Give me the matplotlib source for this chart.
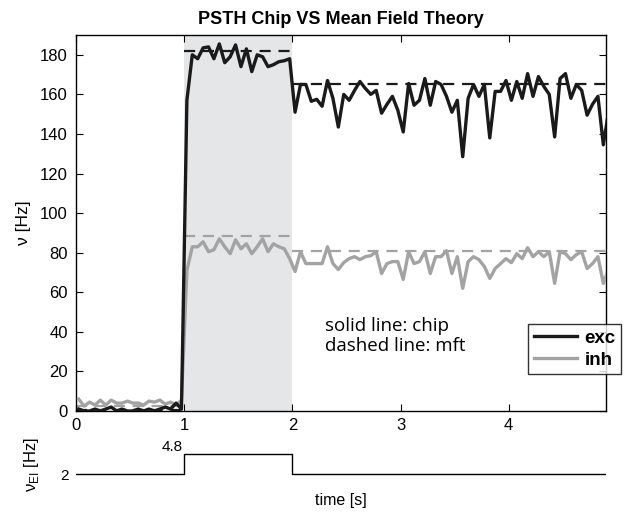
"""PSTH of the chip against mean field theory."""

import matplotlib

matplotlib.use("Agg")

import matplotlib.pyplot as plt
import numpy as np

plt.rcParams["font.family"] = ["Liberation Sans", "DejaVu Sans"]
plt.rcParams["mathtext.fontset"] = "custom"
plt.rcParams["mathtext.rm"] = "Liberation Sans"

# bin centres of the PSTH (50 ms bins)
bin_width = 0.05
exc_rate = [
    # 0 - 1 s
    1, 0, 0, 1, 0, 1, 2, 0, 1, 0, 0, 1, 0, 1, 0, 1, 2, 1, 4, 1,
    # 1 - 2 s
    157, 180, 178, 183.5, 184, 178, 185.5, 176, 179, 185,
    174, 183, 171.5, 180, 179, 174, 175, 176.5, 177, 178,
    # 2 - 3 s
    151, 165, 165, 156.5, 157.5, 154, 167, 158, 143.5, 160,
    157, 162, 166.5, 163, 160, 162, 150.5, 155, 159, 152,
    # 3 - 4 s
    141, 165.5, 154.5, 157, 168, 154.5, 166.5, 165, 159, 151,
    157, 128.5, 158, 165, 159, 165, 138, 161.5, 161.5, 167,
    # 4 - 5 s
    157, 166.5, 158, 170.5, 159, 169, 164, 160, 138.5, 168,
    170.5, 158, 165, 162, 149.5, 155, 159, 134.5, 152, 150,
]
inh_rate = [
    # 0 - 1 s
    6, 2.5, 4.5, 3, 5.5, 3, 5.5, 4, 4, 5, 4, 4, 3, 5, 4.5, 5.5, 3.5, 4.5, 3, 5.5,
    # 1 - 2 s
    71, 83, 83, 85.5, 80.5, 81.5, 87, 83, 79.5, 86.5,
    82, 84.5, 79.5, 83, 87, 80.5, 84.5, 83, 82, 77,
    # 2 - 3 s
    70.5, 80.5, 74.5, 74.5, 74.5, 74.5, 83, 74.5, 71.5, 75,
    77, 78, 76.5, 78, 78.5, 80.5, 69.5, 74.5, 75.5, 75.5,
    # 3 - 4 s
    66.5, 80.5, 74.5, 75.5, 80.5, 69.5, 78, 78, 81, 69.5,
    78, 62, 75.5, 78, 76.5, 73, 67, 72, 74.5, 77,
    # 4 - 5 s
    75, 79.5, 77, 82.5, 78, 80.5, 78, 80.5, 64.5, 80.5,
    79.5, 76.5, 79, 80.5, 72, 74.5, 78, 64.5, 72, 72,
]

# mean field predictions per epoch
epoch_edges = [0, 1, 2, 4.9]
exc_mft = [0.5, 182, 165]
inh_mft = [2.5, 88.5, 81]

# external stimulation rate
stim_t = [0, 1, 1, 2, 2, 4.9]
stim_rate = [2, 2, 4.8, 4.8, 2, 2]

t = bin_width / 2 + bin_width * np.arange(len(exc_rate))
exc_color = "#1a1a1a"
inh_color = "#a3a3a3"

fig = plt.figure(figsize=(6.34, 5.17), dpi=100)
ax = fig.add_axes([0.1199, 0.2050, 0.8360, 0.7273])

ax.axvspan(1, 2, color="#e5e6e8", zorder=0, lw=0)
for i in range(len(exc_mft)):
    ax.plot(epoch_edges[i:i + 2], [exc_mft[i]] * 2, color=exc_color, lw=1.6,
            ls=(0, (5, 3.5)))
    ax.plot(epoch_edges[i:i + 2], [inh_mft[i]] * 2, color=inh_color, lw=1.6,
            ls=(0, (5, 3.5)))
ax.plot(t, inh_rate, color=inh_color, lw=2.4, label="inh", zorder=3)
ax.plot(t, exc_rate, color=exc_color, lw=2.4, label="exc", zorder=4)

ax.set_xlim(0, 4.9)
ax.set_ylim(0, 190)
ax.set_xticks([0, 1, 2, 3, 4])
ax.set_yticks(np.arange(0, 181, 20))
ax.tick_params(direction="in", top=True, right=True, labelsize=12,
               length=5, width=0.8, pad=5)
ax.tick_params(axis="y", pad=6)
for s in ax.spines.values():
    s.set_linewidth(1.0)
ax.set_ylabel("ν [Hz]", fontsize=12.5, labelpad=6)
ax.set_title("PSTH Chip VS Mean Field Theory", fontsize=13, fontweight="bold",
             pad=8)

ax.text(2.3, 37.7, "solid line: chip\ndashed line: mft", fontsize=13.5,
        family=["Open Sans", "DejaVu Sans"], va="center", linespacing=1.15)

handles, labels = ax.get_legend_handles_labels()
leg = ax.legend(handles[::-1], labels[::-1], loc="upper left",
                bbox_to_anchor=(0.853, 0.231), borderaxespad=0,
                frameon=True, fancybox=False, edgecolor="black",
                handlelength=2.3, borderpad=0.3, labelspacing=0.25,
                handletextpad=0.4, prop={"weight": "bold", "size": 13.5})
leg.get_frame().set_linewidth(1.0)

# stimulus panel
ax2 = fig.add_axes([0.1199, 0.0522, 0.8360, 0.0967])
ax2.plot(stim_t, stim_rate, color="black", lw=1.0)
ax2.set_xlim(0, 4.9)
ax2.set_ylim(-0.24, 6.76)
for s in ax2.spines.values():
    s.set_visible(False)
ax2.set_xticks([])
ax2.set_yticks([2])
ax2.tick_params(axis="y", length=0, labelsize=11, pad=5)
ax2.text(0.985, 4.8, "4.8", ha="right", va="bottom", fontsize=11)
ax2.set_ylabel("ν$_{\\rm EI}$ [Hz]", fontsize=12, labelpad=14)
ax2.set_xlabel("time [s]", fontsize=11.5, labelpad=2)

fig.savefig("out.png", dpi=100)
